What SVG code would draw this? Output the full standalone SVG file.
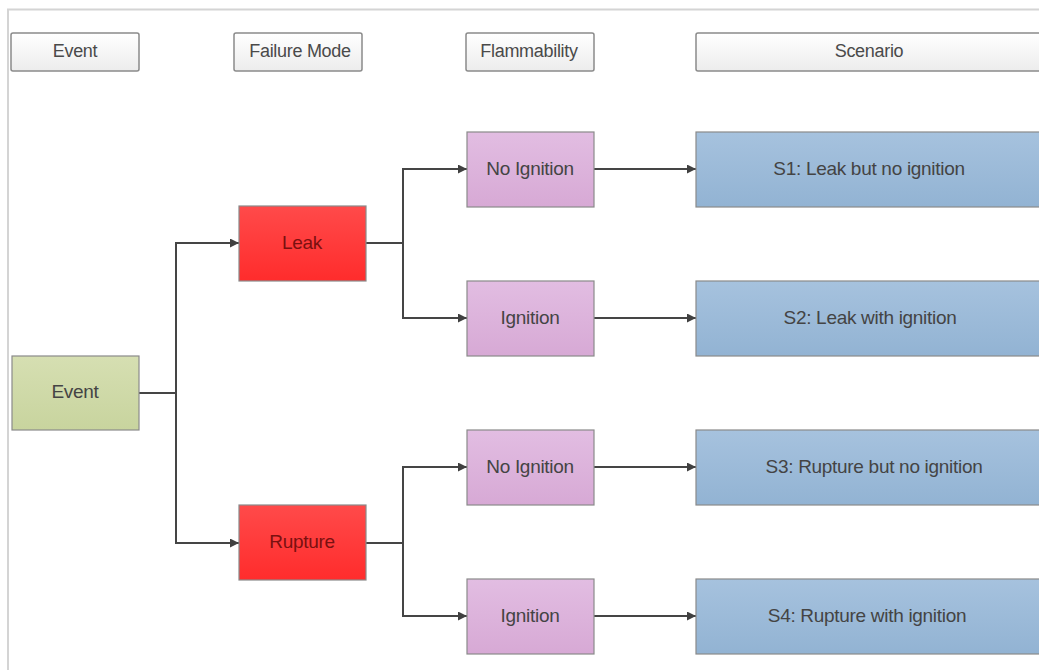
<svg xmlns="http://www.w3.org/2000/svg" width="1039" height="670" viewBox="0 0 1039 670">
<defs>
<linearGradient id="gHead" x1="0" y1="0" x2="0" y2="1"><stop offset="0" stop-color="#ffffff"/><stop offset="1" stop-color="#ececec"/></linearGradient>
<linearGradient id="gGreen" x1="0" y1="0" x2="0" y2="1"><stop offset="0" stop-color="#d6dfb2"/><stop offset="1" stop-color="#c8d49e"/></linearGradient>
<linearGradient id="gRed" x1="0" y1="0" x2="0" y2="1"><stop offset="0" stop-color="#ff4a4a"/><stop offset="1" stop-color="#ff2c2c"/></linearGradient>
<linearGradient id="gPink" x1="0" y1="0" x2="0" y2="1"><stop offset="0" stop-color="#e2bde2"/><stop offset="1" stop-color="#d7a9d5"/></linearGradient>
<linearGradient id="gBlue" x1="0" y1="0" x2="0" y2="1"><stop offset="0" stop-color="#a6c2de"/><stop offset="1" stop-color="#92b3d3"/></linearGradient>
<marker id="arr" viewBox="0 0 10 10" refX="10" refY="5" markerWidth="9" markerHeight="9" markerUnits="userSpaceOnUse" orient="auto"><path d="M0,0 L10,5 L0,10 Z" fill="#404040"/></marker>
<style>
.head rect{fill:url(#gHead);stroke:#8a8a8a;stroke-width:1.5}
.node rect{stroke:#8a8a8a;stroke-width:1.2}
text{font-family:"Liberation Sans",Arial,sans-serif;font-size:19px;fill:#444444;text-anchor:middle;dominant-baseline:central;letter-spacing:-0.3px}
.head text{font-size:18px;fill:#4a4a4a}
.red text{fill:#7a1010}
.conn path{fill:none;stroke:#454545;stroke-width:2}
</style>
</defs>
<rect width="1039" height="670" fill="#ffffff"/>
<path d="M8,670 V9.5 H1039" fill="none" stroke="#d4d4d4" stroke-width="2"/>
<g id="h-event" class="head"><rect x="11" y="33" width="128" height="38" rx="2"/><text x="75" y="51">Event</text></g>
<g id="h-failure" class="head"><rect x="234" y="33" width="128" height="38" rx="2"/><text x="300" y="51">Failure Mode</text></g>
<g id="h-flam" class="head"><rect x="466" y="33" width="128" height="38" rx="2"/><text x="529" y="51">Flammability</text></g>
<g id="h-scen" class="head"><rect x="696" y="33" width="350" height="38" rx="2"/><text x="869" y="51">Scenario</text></g>
<g class="conn" id="connectors">
<path d="M139,393 H176 V243 H239" marker-end="url(#arr)"/>
<path d="M176,393 V543 H239" marker-end="url(#arr)"/>
<path d="M366,243 H403 V169 H467" marker-end="url(#arr)"/>
<path d="M403,243 V318 H467" marker-end="url(#arr)"/>
<path d="M366,543 H403 V467 H467" marker-end="url(#arr)"/>
<path d="M403,543 V616 H467" marker-end="url(#arr)"/>
<path d="M594,169 H696" marker-end="url(#arr)"/>
<path d="M594,318 H696" marker-end="url(#arr)"/>
<path d="M594,467 H696" marker-end="url(#arr)"/>
<path d="M594,616 H696" marker-end="url(#arr)"/>
</g>
<g id="n-event" class="node"><rect x="12" y="356" width="127" height="74" fill="url(#gGreen)"/><text x="75" y="391">Event</text></g>
<g id="n-leak" class="node red"><rect x="239" y="206" width="127" height="75" fill="url(#gRed)"/><text x="302" y="242">Leak</text></g>
<g id="n-rupture" class="node red"><rect x="239" y="505" width="127" height="75" fill="url(#gRed)"/><text x="302" y="541">Rupture</text></g>
<g id="n-noign1" class="node"><rect x="467" y="132" width="127" height="75" fill="url(#gPink)"/><text x="530" y="168">No Ignition</text></g>
<g id="n-ign1" class="node"><rect x="467" y="281" width="127" height="75" fill="url(#gPink)"/><text x="530" y="317">Ignition</text></g>
<g id="n-noign2" class="node"><rect x="467" y="430" width="127" height="75" fill="url(#gPink)"/><text x="530" y="466">No Ignition</text></g>
<g id="n-ign2" class="node"><rect x="467" y="579" width="127" height="75" fill="url(#gPink)"/><text x="530" y="615">Ignition</text></g>
<g id="n-s1" class="node"><rect x="696" y="132" width="350" height="75" fill="url(#gBlue)"/><text x="869" y="168">S1: Leak but no ignition</text></g>
<g id="n-s2" class="node"><rect x="696" y="281" width="350" height="75" fill="url(#gBlue)"/><text x="870" y="317">S2: Leak with ignition</text></g>
<g id="n-s3" class="node"><rect x="696" y="430" width="350" height="75" fill="url(#gBlue)"/><text x="874" y="466">S3: Rupture but no ignition</text></g>
<g id="n-s4" class="node"><rect x="696" y="579" width="350" height="75" fill="url(#gBlue)"/><text x="867" y="615">S4: Rupture with ignition</text></g>
</svg>
